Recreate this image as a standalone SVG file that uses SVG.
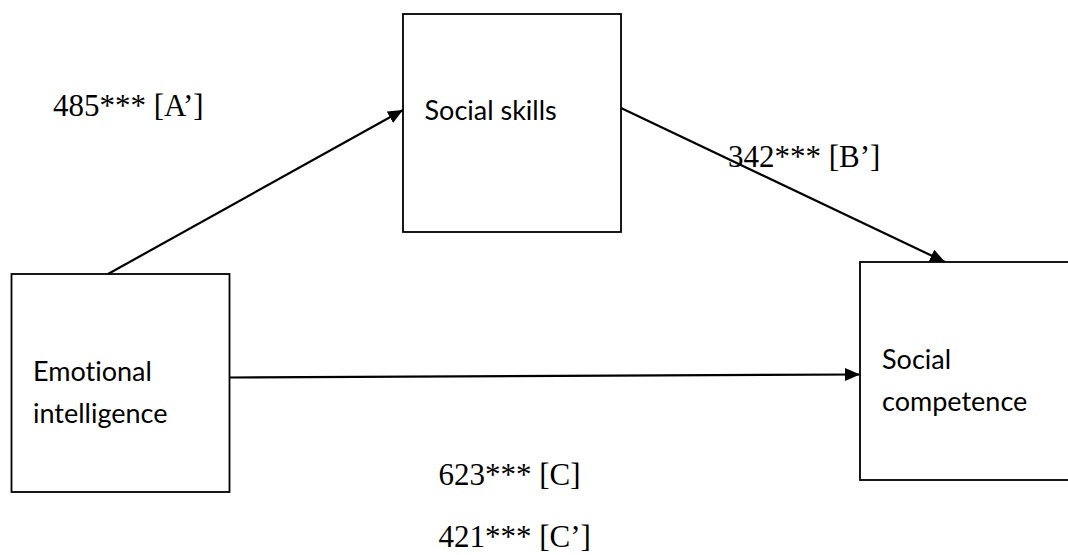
<svg xmlns="http://www.w3.org/2000/svg" width="1068" height="555" viewBox="0 0 1068 555">
<style>
.box{fill:#fff;stroke:#000;stroke-width:1.8}
.lbl{font-family:Lato,"Open Sans","Liberation Sans",sans-serif;font-size:27px;fill:#000;font-variant-ligatures:none;font-feature-settings:"liga" 0}
.coef{font-family:"Liberation Serif","Times New Roman",serif;font-size:31px;fill:#000}
.edge{stroke:#000;stroke-width:2.2;fill:none;marker-end:url(#arr)}
</style>
<defs>
<marker id="arr" markerUnits="userSpaceOnUse" markerWidth="16" markerHeight="14" refX="15" refY="6.5" orient="auto">
<path d="M0,0 L15,6.5 L0,13 z" fill="#000"/>
</marker>
</defs>
<rect x="0" y="0" width="1068" height="555" fill="#fff"/>
<g id="node-social-skills">
<rect class="box" x="403" y="14" width="218" height="218"/>
<text class="lbl" x="424.5" y="120">Social skills</text>
</g>
<g id="node-emotional-intelligence">
<rect class="box" x="11.5" y="274" width="218" height="218"/>
<text class="lbl" x="33" y="381">Emotional</text>
<text class="lbl" x="33" y="422.5">intelligence</text>
</g>
<g id="node-social-competence">
<rect class="box" x="860" y="262" width="230" height="218"/>
<text class="lbl" x="882" y="369">Social</text>
<text class="lbl" x="882" y="410.7">competence</text>
</g>
<g id="connectors">
<line class="edge" x1="108" y1="274" x2="403" y2="110"/>
<line class="edge" x1="621" y1="108" x2="945" y2="262"/>
<line class="edge" x1="229.5" y1="377.5" x2="860" y2="374.5"/>
</g>
<g id="labels">
<text class="coef" x="53" y="116">485*** [A’]</text>
<text class="coef" x="728" y="167">342*** [B’]</text>
<text class="coef" x="438.5" y="485">623*** [C]</text>
<text class="coef" x="438.5" y="547">421*** [C’]</text>
</g>
</svg>
